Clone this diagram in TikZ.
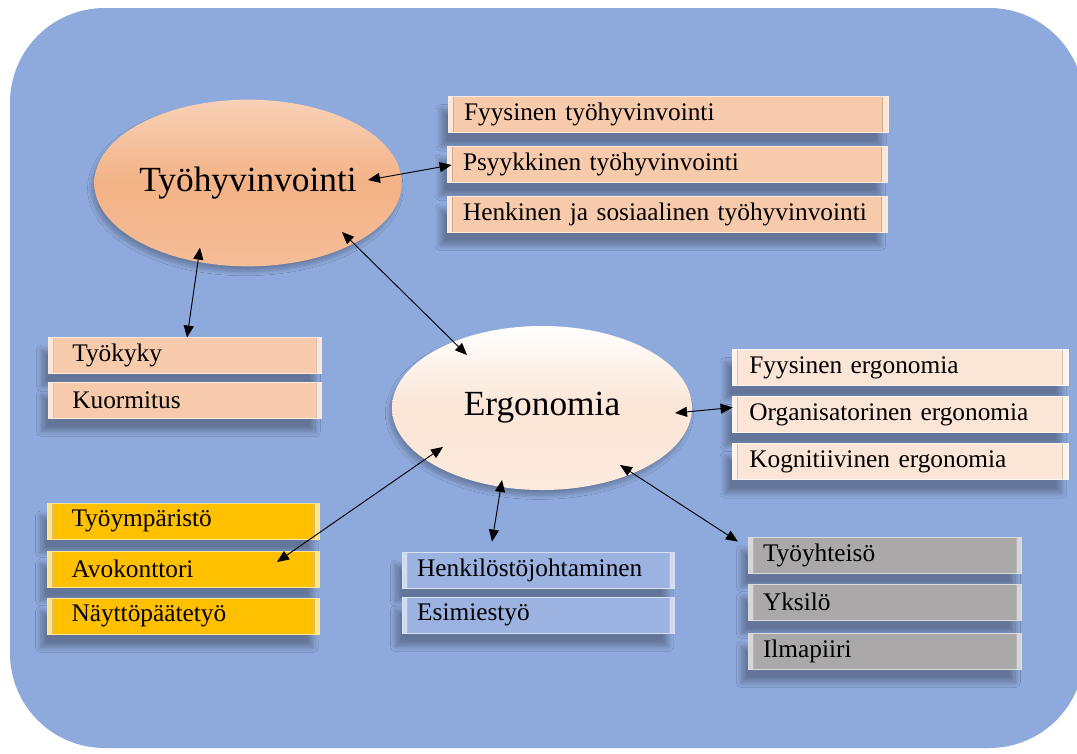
\documentclass[tikz,border=0pt]{standalone}
\usepackage{fontspec}
\setmainfont{Liberation Serif}
\usetikzlibrary{shapes.geometric,arrows.meta,shadows.blur}

\definecolor{taustaSin}{RGB}{142,169,219}
\definecolor{tyoPeach}{RGB}{243,178,134}
\definecolor{boxPeach}{RGB}{247,202,172}
\definecolor{ergoPeach}{RGB}{251,229,214}
\definecolor{boxYellow}{RGB}{255,192,0}
\definecolor{boxBlue}{RGB}{156,179,225}
\definecolor{boxGray}{RGB}{170,168,168}

\tikzset{
	oval/.style={ellipse, inner sep=0pt, font=\fontsize{26.5}{30}\selectfont,
		blur shadow={shadow xshift=-2pt, shadow yshift=-4pt, shadow opacity=25, shadow blur radius=3pt, shadow blur steps=12}},
	box/.style={fill=#1, draw=white!60!#1, line width=0.6pt, minimum height=27pt, inner ysep=0pt,
		align=left, font=\fontsize{19}{22}\selectfont,
		blur shadow={shadow xshift=-5pt, shadow yshift=-10pt, shadow opacity=30, shadow blur radius=4pt, shadow blur steps=16},
		path picture={
			\fill[white, opacity=.55] (path picture bounding box.south west) rectangle ([xshift=4pt]path picture bounding box.north west);
			\fill[white, opacity=.55] ([xshift=-4pt]path picture bounding box.south east) rectangle (path picture bounding box.north east);
			\draw[black, opacity=.15] ([xshift=4pt]path picture bounding box.south west) -- ([xshift=4pt]path picture bounding box.north west);
			\draw[black, opacity=.15] ([xshift=-4pt]path picture bounding box.south east) -- ([xshift=-4pt]path picture bounding box.north east);
		}},
	hvbox/.style={box=boxPeach, inner xsep=12pt, text width=306pt},
	kykybox/.style={box=boxPeach, inner xsep=18pt, text width=169pt},
	ergobox/.style={box=ergoPeach, inner xsep=13pt, text width=226pt},
	ympbox/.style={box=boxYellow, inner xsep=18pt, text width=168pt},
	johtobox/.style={box=boxBlue, inner xsep=11pt, text width=182pt},
	yhtbox/.style={box=boxGray, inner xsep=11pt, text width=183pt},
	link/.style={{Triangle[length=9pt,width=7.5pt]}-{Triangle[length=9pt,width=7.5pt]}, line width=0.7pt, black}
}

\begin{document}
\begin{tikzpicture}[x=0.75pt,y=0.75pt,yscale=-1,xscale=1]
	\useasboundingbox (0,0) rectangle (1077,753);
	
	% background
	\fill[taustaSin, rounded corners=71pt] (10,8) rectangle (1084,748);
	
	% ellipses
	\node [oval, minimum width=223pt, minimum height=125pt, top color=tyoPeach!60!white, bottom color=tyoPeach!85!white, middle color=tyoPeach] (tyo) at (248,183) {Työhyvinvointi};
	\node [oval, minimum width=225pt, minimum height=123pt, top color=white, bottom color=ergoPeach!80!white, middle color=ergoPeach] (ergo) at (542,408) {Ergonomia};
	
	% tyohyvinvointi boxes
	\node [hvbox] (fyyshv) at (668,114.5) {Fyysinen työhyvinvointi};
	\node [hvbox] (psyhv) at (667,164) {Psyykkinen työhyvinvointi};
	\node [hvbox] (henkhv) at (667,214) {Henkinen ja sosiaalinen työhyvinvointi};
	\node [kykybox] (tyokyky) at (185,355) {Työkyky};
	\node [kykybox] (kuorm) at (185,400) {Kuormitus};
	
	% ergonomia boxes
	\node [ergobox] (fyyserg) at (900,367.5) {Fyysinen ergonomia};
	\node [ergobox] (orgerg) at (900,414.5) {Organisatorinen ergonomia};
	\node [ergobox] (kogerg) at (900,461.5) {Kognitiivinen ergonomia};
	\node [ympbox] (tyoymp) at (183.5,521) {Työympäristö};
	\node [ympbox] (avok) at (183.5,569) {Avokonttori};
	\node [ympbox] (nayt) at (183.5,616) {Näyttöpäätetyö};
	\node [johtobox] (henkjoht) at (538.5,570) {Henkilöstöjohtaminen};
	\node [johtobox] (esimies) at (538.5,615) {Esimiestyö};
	\node [yhtbox] (tyoyht) at (885,555) {Työyhteisö};
	\node [yhtbox] (yksilo) at (885,602) {Yksilö};
	\node [yhtbox] (ilma) at (885,651) {Ilmapiiri};
	
	% arrows
	\draw [link] ([shift={(120,-3)}]tyo.center) -- ([shift={(5,1)}]psyhv.west);
	\draw [link] ([shift={(-48,-19)}]tyo.south) -- ([shift={(2,1)}]tyokyky.north);
	\draw [link] ([shift={(94,49)}]tyo.center) -- ([shift={(-75,-53)}]ergo.center);
	\draw [link] ([shift={(133,5)}]ergo.center) -- ([shift={(1,-7)}]orgerg.west);
	\draw [link] ([shift={(-99,39)}]ergo.center) -- ([shift={(93.5,-7)}]avok.center);
	\draw [link] ([shift={(-40,72)}]ergo.center) -- ([shift={(-46.5,-10)}]henkjoht.north);
	\draw [link] ([shift={(78,57)}]ergo.center) -- ([shift={(-10,5)}]tyoyht.north west);
\end{tikzpicture}
\end{document}
